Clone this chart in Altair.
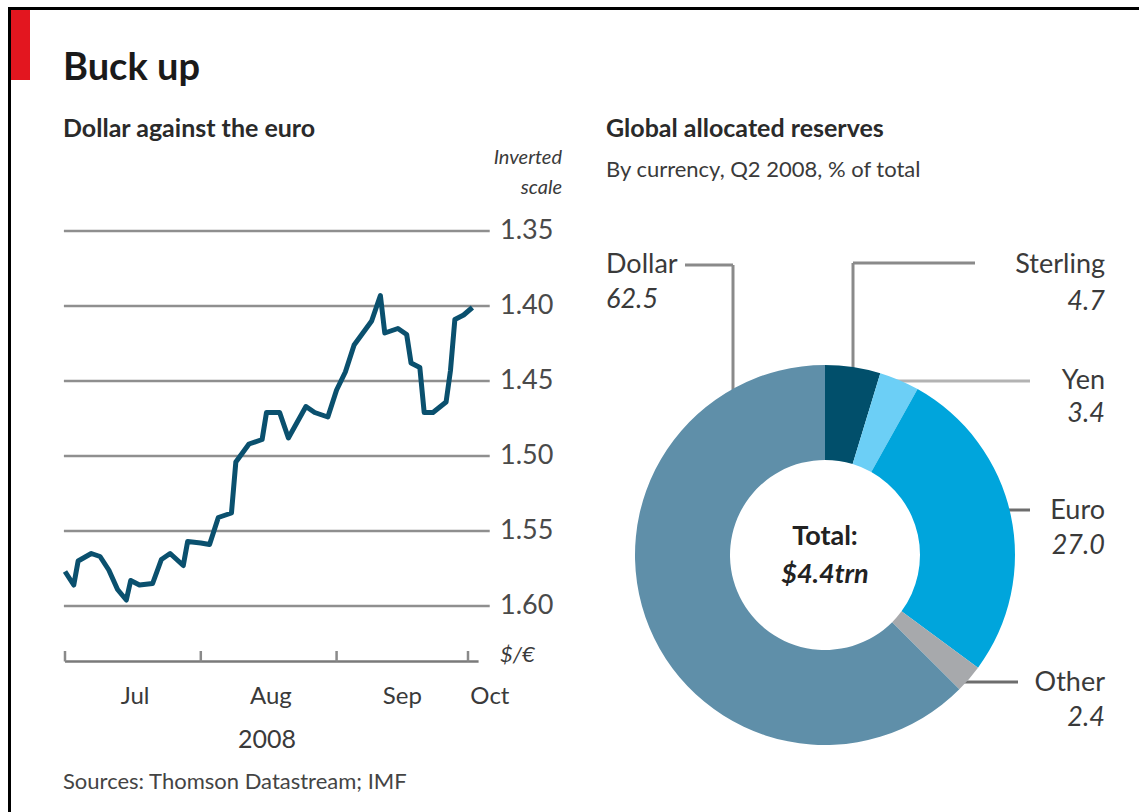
import altair as alt
import pandas as pd

# ---------------- data ----------------
dates = ["2008-07-01", "2008-07-03", "2008-07-04", "2008-07-07", "2008-07-09", "2008-07-11",
         "2008-07-13", "2008-07-15", "2008-07-16", "2008-07-18", "2008-07-21", "2008-07-23",
         "2008-07-25", "2008-07-28", "2008-07-29", "2008-08-01", "2008-08-03", "2008-08-05",
         "2008-08-08", "2008-08-09", "2008-08-12", "2008-08-15", "2008-08-16", "2008-08-19",
         "2008-08-21", "2008-08-25", "2008-08-27", "2008-08-30", "2008-09-01", "2008-09-03",
         "2008-09-05", "2008-09-09", "2008-09-11", "2008-09-12", "2008-09-15", "2008-09-17",
         "2008-09-18", "2008-09-20", "2008-09-21", "2008-09-23", "2008-09-26", "2008-09-27",
         "2008-09-28", "2008-09-30", "2008-10-02"]
rates = [1.577, 1.586, 1.570, 1.565, 1.567, 1.576,
         1.589, 1.596, 1.583, 1.586, 1.585, 1.569,
         1.565, 1.573, 1.557, 1.558, 1.559, 1.541,
         1.538, 1.504, 1.492, 1.489, 1.471, 1.471,
         1.488, 1.467, 1.471, 1.474, 1.456, 1.444,
         1.426, 1.410, 1.393, 1.418, 1.415, 1.419,
         1.438, 1.441, 1.471, 1.471, 1.464, 1.443,
         1.409, 1.406, 1.401]

grid_ticks = [1.35, 1.40, 1.45, 1.50, 1.55, 1.60]
month_starts = ["2008-07-01", "2008-08-01", "2008-09-01", "2008-10-01"]
month_labels = ["Jul", "Aug", "Sep", "Oct"]
month_label_dates = ["2008-07-17", "2008-08-17", "2008-09-16", "2008-10-06"]

currencies = ["Sterling", "Yen", "Euro", "Other", "Dollar"]
shares = [4.7, 3.4, 27.0, 2.4, 62.5]
colors = ["#014f6b", "#6ccff6", "#00a5dc", "#a7a9ac", "#5f8fa9"]

FONT = "Lato"
TXT = "#3a3a3a"

# ---------------- scales ----------------
xscale = alt.Scale(domain=[alt.DateTime(year=2008, month=7, date=1),
                           alt.DateTime(year=2008, month=10, date=1)],
                   range=[65, 468])
yscale = alt.Scale(domain=[1.35, 1.60], range=[231, 606], zero=False, nice=False)

line_df = pd.DataFrame({"date": pd.to_datetime(dates), "rate": rates})
grid_df = pd.DataFrame({"tick": grid_ticks,
                        "start": pd.Timestamp("2008-06-30T18:00:00"),
                        "end": pd.Timestamp("2008-10-05T23:00:00")})
tick_df = pd.DataFrame({"m": pd.to_datetime(month_starts), "y1": 1.630, "y2": 1.637})
axis_df = pd.DataFrame({"a": [pd.Timestamp("2008-07-01")], "b": [pd.Timestamp("2008-10-03T10:00:00")],
                        "y": [1.637]})
mlab_df = pd.DataFrame({"d": pd.to_datetime(month_label_dates), "lab": month_labels})
pie_df = pd.DataFrame({"currency": currencies, "share": shares, "idx": list(range(len(currencies)))})


def txt(s, x, y, size=22, weight="normal", style="normal", align="left", color=TXT,
        baseline="middle"):
    return alt.Chart(pd.DataFrame({"t": [s]})).mark_text(
        x=x, y=y, fontSize=size, fontWeight=weight, fontStyle=style, align=align,
        baseline=baseline, color=color, font=FONT).encode(text="t:N")


def seg(x1, y1, x2, y2, color="#8a8a8a", w=3):
    return alt.Chart(pd.DataFrame({"k": [0]})).mark_rule(color=color, strokeWidth=w).encode(
        x=alt.value(x1), x2=alt.value(x2), y=alt.value(y1), y2=alt.value(y2))


layers = []

# frame and red tab
layers.append(seg(8, 8.5, 1139, 8.5, "#000000", 3))
layers.append(seg(9.5, 7, 9.5, 812, "#000000", 3))
layers.append(alt.Chart(pd.DataFrame({"k": [0]})).mark_rect(color="#e3161f").encode(
    x=alt.value(11), x2=alt.value(30), y=alt.value(10), y2=alt.value(80)))

# titles
layers.append(txt("Buck up", 63, 80, 38, "bold", color="#1a1a1a", baseline="alphabetic"))
layers.append(txt("Dollar against the euro", 63, 137, 25, "bold", color="#2a2a2a", baseline="alphabetic"))
layers.append(txt("Global allocated reserves", 606, 137, 25, "bold", color="#2a2a2a", baseline="alphabetic"))
layers.append(txt("By currency, Q2 2008, % of total", 606, 177, 22, color="#3a3a3a", baseline="alphabetic"))
layers.append(txt("Inverted", 562, 158, 20, style="italic", align="right"))
layers.append(txt("scale", 562, 188, 20, style="italic", align="right"))

# ---------------- line chart ----------------
grid = alt.Chart(grid_df).mark_rule(color="#8f8f8f", strokeWidth=2.5).encode(
    x=alt.X("start:T", scale=xscale, axis=None), x2="end:T",
    y=alt.Y("tick:Q", scale=yscale, axis=None))
grid_lab = alt.Chart(grid_df).mark_text(align="left", baseline="middle", dx=0, fontSize=27,
                                        font=FONT, color="#4a4a4a").encode(
    x=alt.value(500), y=alt.Y("tick:Q", scale=yscale, axis=None),
    text=alt.Text("tick:Q", format=".2f"))
axis_line = alt.Chart(axis_df).mark_rule(color="#7a7a7a", strokeWidth=2.5).encode(
    x=alt.X("a:T", scale=xscale, axis=None), x2="b:T",
    y=alt.Y("y:Q", scale=yscale, axis=None))
ticks = alt.Chart(tick_df).mark_rule(color="#8a8a8a", strokeWidth=2.5).encode(
    x=alt.X("m:T", scale=xscale, axis=None),
    y=alt.Y("y1:Q", scale=yscale, axis=None), y2="y2:Q")
mlab = alt.Chart(mlab_df).mark_text(align="center", baseline="middle", fontSize=24,
                                    font=FONT, color="#3a3a3a").encode(
    x=alt.X("d:T", scale=xscale, axis=None), y=alt.value(697), text="lab:N")
line = alt.Chart(line_df).mark_line(color="#0a506e", strokeWidth=5, strokeJoin="round").encode(
    x=alt.X("date:T", scale=xscale, axis=None),
    y=alt.Y("rate:Q", scale=yscale, axis=None))

layers += [grid, grid_lab, axis_line, ticks, mlab, line]
layers.append(txt("$/€", 500, 655, 22, style="italic"))
layers.append(txt("2008", 267, 740, 25, align="center"))
layers.append(txt("Sources: Thomson Datastream; IMF", 63, 782, 22, color="#444444"))

# ---------------- donut ----------------
LC = "#8a8a8a"
layers.append(seg(685, 265, 733, 265, LC))
layers.append(seg(733, 265, 733, 395, LC))
layers.append(seg(853, 263, 975, 263, LC))
layers.append(seg(853, 263, 853, 372, LC))
layers.append(seg(885, 381, 1030, 381, "#b3b3b3"))
layers.append(seg(1000, 510, 1030, 510, "#6d6d6d"))
layers.append(seg(955, 682, 1018, 682, "#6d6d6d"))

donut = alt.Chart(pie_df).mark_arc(innerRadius=95, outerRadius=190).encode(
    theta=alt.Theta("share:Q", stack=True),
    order=alt.Order("idx:Q"),
    color=alt.Color("currency:N", scale=alt.Scale(domain=currencies, range=colors), legend=None),
    x=alt.value(825), y=alt.value(555))
layers.append(donut)

layers.append(txt("Total:", 825, 537, 27, "bold", align="center", color="#222222"))
layers.append(txt("$4.4trn", 825, 575, 27, "bold", "italic", align="center", color="#222222"))

val = dict(zip(currencies, shares))
layers.append(txt("Dollar", 606, 265, 27))
layers.append(txt(f"{val['Dollar']:.1f}", 606, 300, 27, style="italic"))
right_labels = [("Sterling", 265, 302), ("Yen", 381, 414), ("Euro", 511, 546), ("Other", 683, 718)]
for name, y1, y2 in right_labels:
    layers.append(txt(name, 1105, y1, 27, align="right"))
    layers.append(txt(f"{val[name]:.1f}", 1105, y2, 27, style="italic", align="right"))

chart = alt.layer(*layers).properties(
    width=1139, height=812, padding=0,
    autosize=alt.AutoSizeParams(type="none"), background="white"
).configure_view(stroke=None)

chart.save("out.html", embed_options={"renderer": "svg", "actions": False})
